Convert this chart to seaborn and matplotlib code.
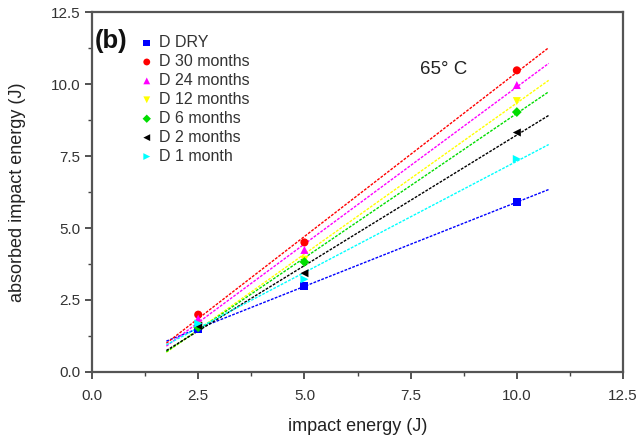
import numpy as np
import pandas as pd
import matplotlib
matplotlib.use("Agg")
import matplotlib.pyplot as plt
from matplotlib.ticker import MultipleLocator
import seaborn as sns

impact = [2.5, 5.0, 10.0]
series = ["D DRY", "D 30 months", "D 24 months", "D 12 months", "D 6 months", "D 2 months", "D 1 month"]
absorbed_dry = [1.49, 3.00, 5.89]
absorbed_30 = [1.99, 4.50, 10.48]
absorbed_24 = [1.85, 4.24, 9.97]
absorbed_12 = [1.60, 3.90, 9.41]
absorbed_6 = [1.55, 3.82, 9.03]
absorbed_2 = [1.60, 3.43, 8.32]
absorbed_1 = [1.68, 3.22, 7.40]

values = [absorbed_dry, absorbed_30, absorbed_24, absorbed_12, absorbed_6, absorbed_2, absorbed_1]
colors = ["#0000ff", "#ff0000", "#ff00ff", "#ffff00", "#00dd00", "#000000", "#00ffff"]
markers = ["s", "o", "^", "v", "D", "<", ">"]

sns.set_style("ticks")
plt.rcParams["font.family"] = ["Liberation Sans", "DejaVu Sans"]

fig = plt.figure(figsize=(6.39, 4.36), dpi=100)
ax = fig.add_axes([0.144, 0.147, 0.831, 0.825])

fit_x = np.array([1.75, 10.75])
for name, vals, c, m in zip(series, values, colors, markers):
    # linear fit line through each series
    k, b = np.polyfit(impact, vals, 1)
    ax.plot(fit_x, k * fit_x + b, color=c, lw=1.0, ls=(0, (2, 1)), zorder=2)
    ms = 5 if m == "D" else 5.8
    sns.scatterplot(x=impact, y=vals, marker=m, color=c, s=ms**2, edgecolor="none",
                    label=name, ax=ax, zorder=3)

ax.set_xlim(0, 12.5)
ax.set_ylim(0, 12.5)
ax.xaxis.set_major_locator(MultipleLocator(2.5))
ax.yaxis.set_major_locator(MultipleLocator(2.5))
ax.xaxis.set_minor_locator(MultipleLocator(1.25))
ax.yaxis.set_minor_locator(MultipleLocator(1.25))
ax.xaxis.set_major_formatter(matplotlib.ticker.FormatStrFormatter("%.1f"))
ax.yaxis.set_major_formatter(matplotlib.ticker.FormatStrFormatter("%.1f"))
ax.tick_params(which="major", length=5, width=1.3, colors="#444444", labelsize=11, labelcolor="#333333")
ax.tick_params(axis="x", which="major", pad=7.5)
ax.tick_params(which="minor", length=3, width=1.0, colors="#444444")
for s in ax.spines.values():
    s.set_linewidth(1.6)
    s.set_color("#555555")

ax.set_xlabel("impact energy (J)", fontsize=13, color="#222222", labelpad=10.5)
ax.set_ylabel("absorbed impact energy (J)", fontsize=13, color="#222222", labelpad=18)

ax.text(0.005, 0.92, "(b)", transform=ax.transAxes, fontsize=18.5, fontweight="bold",
        va="center", ha="left", color="#111111")
ax.text(7.72, 10.5, "65° C", fontsize=13.5, color="#222222", va="center")

ax.legend(loc="upper left", bbox_to_anchor=(0.067, 0.967), frameon=False, fontsize=11.5,
          handletextpad=0.25, labelspacing=0.245, borderpad=0.2, handlelength=1.0,
          markerscale=0.85, labelcolor="#333333")

fig.savefig("out.png", dpi=100)
